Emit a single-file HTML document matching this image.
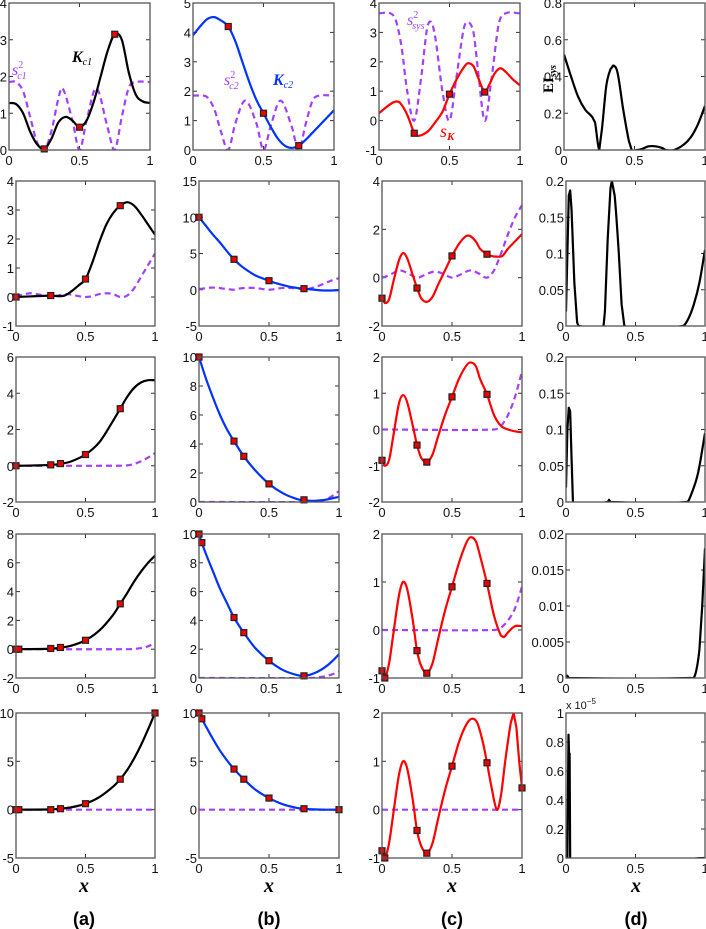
<!DOCTYPE html>
<html><head><meta charset="utf-8">
<style>
html,body{margin:0;padding:0;background:#fff;}
svg{display:block;}
text{font-family:"Liberation Sans",sans-serif;}
</style></head>
<body>
<svg id="fig" width="706" height="929" viewBox="0 0 706 929" xmlns="http://www.w3.org/2000/svg"></svg>
<script>
// ---------- data ----------
// Row 1
const a1_kx=[0,.05,.1,.15,.2,.25,.3,.35,.4,.45,.5,.55,.6,.65,.7,.75,.8,.85,.9,.95,1];
const a1_ky=[1.28,1.25,1.0,.5,.15,.03,.3,.75,.9,.8,.62,.8,1.3,2.0,2.7,3.15,3.0,2.1,1.5,1.32,1.28];
const a1_sx=[0,.05,.1,.15,.2,.25,.3,.35,.38,.45,.5,.55,.62,.7,.75,.8,.85,.9,1];
const a1_sy=[1.85,1.85,1.6,.9,.2,0,.5,1.4,1.68,.8,0,.8,1.68,.6,0,.9,1.7,1.85,1.85];
const a1_mx=[.25,.5,.75]; const a1_my=[.03,.62,3.15];
const b1_kx=[0,.05,.1,.15,.2,.25,.3,.35,.4,.45,.5,.55,.6,.65,.7,.75,.8,.85,.9,.95,1];
const b1_ky=[3.9,4.2,4.45,4.52,4.4,4.2,3.7,3.0,2.3,1.7,1.25,.8,.4,.15,.07,.15,.35,.6,.85,1.1,1.35];
const b1_sx=[0,.05,.1,.15,.2,.25,.3,.37,.45,.5,.55,.62,.7,.75,.8,.85,.9,1];
const b1_sy=[1.85,1.85,1.8,1.4,.6,0,.9,1.68,.9,0,.8,1.68,.8,0,.9,1.7,1.85,1.85];
const b1_mx=[.25,.5,.75]; const b1_my=[4.2,1.25,.15];
const c1_kx=[0,.05,.1,.12,.15,.2,.25,.28,.3,.35,.4,.45,.5,.55,.6,.63,.67,.7,.75,.78,.82,.86,.9,.95,1];
const c1_ky=[.25,.45,.62,.65,.6,.2,-.42,-.52,-.5,-.35,-.05,.3,.9,1.4,1.8,1.95,1.85,1.5,.97,1.2,1.6,1.78,1.65,1.4,1.2];
const c1_sx=[0,.08,.12,.16,.2,.25,.3,.34,.37,.4,.45,.5,.55,.6,.63,.67,.7,.75,.8,.85,.9,1];
const c1_sy=[3.65,3.65,3.4,2.5,1.0,0,1.5,3.1,3.35,2.8,1.0,0,1.5,3.1,3.35,3.0,1.8,0,1.5,3.3,3.65,3.65];
const c1_mx=[.25,.5,.75]; const c1_my=[-.43,.9,.97];
const d1_x=[0,.05,.1,.15,.2,.22,.25,.27,.3,.33,.35,.38,.42,.46,.48,.52,.55,.6,.65,.7,.72,.78,.85,.9,.95,1];
const d1_y=[.52,.4,.29,.22,.18,.15,0,.12,.35,.44,.46,.42,.22,.05,0,0,.005,.02,.02,.01,0,0,.03,.07,.14,.24];
// Row 2
const a2_kx=[0,.1,.2,.25,.3,.35,.4,.45,.5,.55,.6,.65,.7,.75,.8,.85,.9,.95,1];
const a2_ky=[0,.02,.04,.05,.03,.05,.2,.4,.62,1.2,1.9,2.5,2.9,3.15,3.27,3.15,2.85,2.5,2.15];
const a2_sx=[0,.05,.1,.15,.2,.25,.3,.35,.4,.45,.5,.55,.6,.65,.7,.75,.8,.85,.9,.95,1];
const a2_sy=[.05,.08,.13,.1,.05,.02,.05,.1,.08,.03,0,.03,.1,.13,.1,0,.05,.3,.7,1.1,1.5];
const a2_mx=[0,.25,.5,.75]; const a2_my=[0,.05,.62,3.15];
const b2_kx=[0,.05,.1,.15,.2,.25,.3,.35,.4,.45,.5,.55,.6,.65,.7,.75,.8,.85,.9,.95,1];
const b2_ky=[10,8.8,7.6,6.5,5.3,4.2,3.3,2.6,2.0,1.6,1.25,.9,.65,.4,.25,.15,.05,-.05,-.1,-.1,-.05];
const b2_sx=[0,.1,.2,.25,.3,.4,.5,.6,.7,.75,.8,.85,.9,.95,1];
const b2_sy=[.1,.3,.1,0,.2,.25,0,.25,.2,0,.2,.5,.9,1.3,1.6];
const b2_mx=[0,.25,.5,.75]; const b2_my=[10,4.2,1.25,.15];
const c2_kx=[0,.02,.05,.08,.12,.15,.18,.22,.25,.28,.32,.36,.4,.45,.5,.55,.6,.63,.67,.7,.75,.78,.82,.86,.9,.95,1];
const c2_ky=[-.85,-1.05,-.9,-.2,.7,1.02,.8,.1,-.42,-.85,-1.0,-.8,-.3,.3,.9,1.4,1.72,1.72,1.5,1.2,.97,.9,.87,.9,1.2,1.5,1.8];
const c2_sx=[0,.05,.1,.13,.18,.25,.3,.37,.42,.5,.55,.63,.7,.75,.8,.85,.9,.95,1];
const c2_sy=[0,.1,.25,.3,.2,0,.1,.25,.2,0,.1,.3,.15,0,.3,1.0,1.8,2.5,3.0];
const c2_mx=[0,.25,.5,.75]; const c2_my=[-.85,-.43,.9,.97];
const d2_x=[0,.01,.02,.03,.04,.06,.08,.09,.27,.28,.3,.32,.33,.35,.38,.4,.42,.84,.88,.92,.96,1];
const d2_y=[.02,.1,.18,.187,.16,.06,.005,0,0,.02,.12,.19,.2,.18,.1,.03,0,0,.01,.03,.06,.105];
// Row 3
const a3_kx=[0,.1,.2,.25,.32,.4,.5,.6,.7,.75,.8,.85,.9,.95,1];
const a3_ky=[0,.01,.03,.05,.1,.25,.62,1.3,2.5,3.15,3.8,4.3,4.6,4.72,4.72];
const a3_sx=[0,.7,.8,.85,.9,.95,1]; const a3_sy=[0,0,.02,.1,.25,.45,.7];
const a3_mx=[0,.25,.32,.5,.75]; const a3_my=[0,.05,.12,.62,3.15];
const b3_kx=[0,.05,.1,.15,.2,.25,.32,.4,.5,.6,.7,.75,.8,.85,.9,.95,1];
const b3_ky=[10,8.5,7.2,6.0,5.0,4.2,3.15,2.2,1.25,.6,.2,.12,.08,.1,.15,.25,.35];
const b3_sx=[0,.8,.85,.9,.95,1]; const b3_sy=[0,0,.05,.15,.4,.75];
const b3_mx=[0,.25,.32,.5,.75]; const b3_my=[10,4.2,3.15,1.25,.15];
const c3_kx=[0,.02,.05,.08,.12,.15,.18,.22,.25,.28,.32,.36,.4,.45,.5,.55,.6,.63,.67,.7,.75,.8,.85,.9,.95,1];
const c3_ky=[-.85,-1.0,-.85,-.2,.7,.95,.75,.1,-.42,-.78,-.9,-.7,-.2,.4,.9,1.4,1.75,1.85,1.75,1.4,.97,.4,.1,0,-.05,-.08];
const c3_sx=[0,.8,.85,.9,.95,1]; const c3_sy=[0,0,.1,.4,.9,1.6];
const c3_mx=[0,.25,.32,.5,.75]; const c3_my=[-.85,-.43,-.9,.9,.97];
const d3_x=[0,.01,.02,.03,.04,.05,.3,.31,.32,.87,.9,.95,1];
const d3_y=[.02,.1,.13,.125,.06,0,0,.003,0,0,.01,.04,.095];
// Row 4
const a4_kx=[0,.25,.32,.4,.5,.6,.7,.75,.8,.85,.9,.95,1];
const a4_ky=[0,.03,.1,.25,.62,1.3,2.4,3.15,3.9,4.7,5.4,6.0,6.5];
const a4_sx=[0,.8,.85,.9,.95,1]; const a4_sy=[0,0,.02,.08,.2,.45];
const a4_mx=[0,.02,.25,.32,.5,.75]; const a4_my=[0,0,.05,.12,.62,3.15];
const b4_kx=[0,.02,.05,.1,.15,.2,.25,.32,.4,.5,.6,.7,.75,.8,.85,.9,.95,1];
const b4_ky=[10,9.4,8.6,7.4,6.2,5.2,4.2,3.15,2.1,1.2,.55,.2,.15,.25,.45,.75,1.15,1.65];
const b4_sx=[0,.8,.85,.9,.95,1]; const b4_sy=[0,0,.05,.12,.25,.45];
const b4_mx=[0,.02,.25,.32,.5,.75]; const b4_my=[10,9.4,4.2,3.15,1.2,.15];
const c4_kx=[0,.02,.05,.08,.12,.15,.18,.22,.25,.28,.32,.36,.4,.45,.5,.55,.6,.63,.67,.7,.75,.8,.85,.87,.9,.95,1];
const c4_ky=[-.85,-1.0,-.7,-.1,.7,1.0,.85,.2,-.43,-.75,-.9,-.7,-.2,.4,.9,1.4,1.8,1.93,1.85,1.55,.97,.3,-.12,-.15,-.05,.08,.08];
const c4_sx=[0,.8,.85,.9,.95,1]; const c4_sy=[0,0,.05,.2,.45,.9];
const c4_mx=[0,.02,.25,.32,.5,.75]; const c4_my=[-.85,-1.0,-.43,-.9,.9,.97];
const d4_x=[0,.01,.02,.9,.93,.96,.98,1];
const d4_y=[0,.0003,0,0,.0005,.004,.01,.018];
// Row 5
const a5_kx=[0,.25,.32,.4,.5,.6,.7,.75,.8,.85,.9,.95,1];
const a5_ky=[0,.03,.1,.25,.62,1.3,2.4,3.15,4.1,5.3,6.7,8.3,10];
const a5_sx=[0,1]; const a5_sy=[0,0];
const a5_mx=[0,.02,.25,.32,.5,.75,1]; const a5_my=[0,0,0,.1,.62,3.15,10];
const b5_kx=[0,.02,.05,.1,.15,.2,.25,.32,.4,.5,.6,.7,.75,.8,.9,1];
const b5_ky=[10,9.4,8.6,7.3,6.1,5.1,4.2,3.15,2.1,1.2,.55,.18,.1,.04,0,0];
const b5_sx=[0,1]; const b5_sy=[0,0];
const b5_mx=[0,.02,.25,.32,.5,.75,1]; const b5_my=[10,9.4,4.2,3.15,1.2,.1,0];
const c5_kx=[0,.02,.05,.08,.12,.15,.18,.22,.25,.28,.32,.36,.4,.45,.5,.55,.6,.64,.68,.72,.75,.78,.82,.85,.88,.92,.94,.96,.98,1];
const c5_ky=[-.85,-1.0,-.7,-.1,.7,1.0,.85,.2,-.43,-.75,-.9,-.7,-.2,.4,.9,1.4,1.75,1.88,1.8,1.4,.97,.5,0,.3,1.0,1.8,2.0,1.7,1.0,.45];
const c5_sx=[0,1]; const c5_sy=[0,0];
const c5_mx=[0,.02,.25,.32,.5,.75,1]; const c5_my=[-.85,-1.0,-.43,-.9,.9,.97,.45];
const d5_x=[0,.01,.018,.022,.026,.03,1];
const d5_y=[0,0,.85,.72,.72,0,0];
// tick labels
const yt_a=[[0,1,2,3,4],[-1,0,1,2,3,4],[-2,0,2,4,6],[-2,0,2,4,6,8],[-5,0,5,10]];
const yt_b=[[0,1,2,3,4,5],[-5,0,5,10,15],[0,2,4,6,8,10],[0,2,4,6,8,10],[-5,0,5,10]];
const yt_c=[[-1,0,1,2,3,4],[-2,0,2,4],[-2,-1,0,1,2],[-1,0,1,2],[-1,0,1,2]];
const yt_d=[["0","0.2","0.4","0.6","0.8"],["0","0.05","0.1","0.15","0.2"],["0","0.05","0.1","0.15","0.2"],["0","0.005","0.01","0.015","0.02"],["0","0.2","0.4","0.6","0.8","1"]];
const xt=["0","0.5","1"];

// ---------- layout ----------
const NS="http://www.w3.org/2000/svg";
const svg=document.getElementById('fig');
const rowsY=[[3,150],[181,326],[357,502],[534,678],[713,858]];
const colsX=[[[9,150],[193,334],[379,520],[564,705]],[[16,155],[199,339],[382,522],[566,705]]];
const BLACK="#000",BLUE="#0033ff",RED="#ff0000",PURP="#a340ff";
function mk(tag,attrs,parent){const e=document.createElementNS(NS,tag);for(const k in attrs)e.setAttribute(k,attrs[k]);(parent||svg).appendChild(e);return e;}
let clipN=0;
function panel(r,c,ymin,ymax,yt,curves,markers,name){
  const fx=colsX[r===0?0:1][c], fy=rowsY[r];
  const X=v=>fx[0]+v*(fx[1]-fx[0]);
  const Y=v=>fy[1]-(v-ymin)/(ymax-ymin)*(fy[1]-fy[0]);
  const g=mk('g',{});
  
  
  const id='cp'+(clipN++);
  const cp=mk('clipPath',{id:id},g);
  mk('rect',{x:fx[0],y:fy[0],width:fx[1]-fx[0],height:fy[1]-fy[0]},cp);
  // ticks
  const ticks=mk('g',{stroke:'#333','stroke-width':1},g);
  
  
  xt.forEach((t,i)=>{const x=X(+t);
    mk('line',{x1:x,y1:fy[1],x2:x,y2:fy[1]-4},ticks);mk('line',{x1:x,y1:fy[0],x2:x,y2:fy[0]+4},ticks);
    const tx=mk('text',{x:x,y:fy[1]+15,'font-size':13,'text-anchor':'middle',fill:'#111'},g);tx.textContent=t;
    
    });
  yt.forEach(t=>{const y=Y(+t);
    mk('line',{x1:fx[0],y1:y,x2:fx[0]+4,y2:y},ticks);mk('line',{x1:fx[1],y1:y,x2:fx[1]-4,y2:y},ticks);
    const tx=mk('text',{x:fx[0]-2,y:y+5,'font-size':13,'text-anchor':'end',fill:'#111'},g);tx.textContent=String(t);
    
    });
  const pg=mk('g',{'clip-path':'url(#'+id+')'},g);
  curves.forEach(cv=>{
    let d='';cv.xs.forEach((v,i)=>{d+=(i?'L':'M')+X(v).toFixed(2)+','+Y(cv.ys[i]).toFixed(2);});
    const p=mk('path',{d:smooth(cv.xs.map(X),cv.ys.map(Y)),fill:'none',stroke:cv.col,'stroke-width':2.2,'stroke-linejoin':'round'},pg);
    if(cv.dash)p.setAttribute('stroke-dasharray','6,4');
    
    
  });
  if(markers){markers.xs.forEach((v,i)=>{
    const m=mk('rect',{x:X(v)-3,y:Y(markers.ys[i])-3,width:6,height:6,fill:'#ee0000',stroke:'#222','stroke-width':1.2},g);
    
    });}
  const fr=mk('rect',{x:fx[0],y:fy[0],width:fx[1]-fx[0],height:fy[1]-fy[0],fill:'none',stroke:'#555','stroke-width':1.3},g);
  
  
  return {X,Y};
}
function smooth(px,py){
  // monotone-ish cubic (Catmull-Rom, tension limited) through pixel points
  let d='M'+px[0].toFixed(2)+','+py[0].toFixed(2);
  for(let i=0;i<px.length-1;i++){
    const x0=px[Math.max(i-1,0)],y0=py[Math.max(i-1,0)],x1=px[i],y1=py[i],x2=px[i+1],y2=py[i+1],x3=px[Math.min(i+2,px.length-1)],y3=py[Math.min(i+2,px.length-1)];
    const dx=x2-x1;
    let m1=(y2-y0)/((x2-x0)||1), m2=(y3-y1)/((x3-x1)||1);
    if(dx<3){m1=m2=(y2-y1)/(dx||1);}
    d+='C'+(x1+dx/3).toFixed(2)+','+(y1+m1*dx/3).toFixed(2)+' '+(x2-dx/3).toFixed(2)+','+(y2-m2*dx/3).toFixed(2)+' '+x2.toFixed(2)+','+y2.toFixed(2);
  }
  return d;
}
const yrA=[[0,4],[-1,4],[-2,6],[-2,8],[-5,10]];
const yrB=[[0,5],[-5,15],[0,10],[0,10],[-5,10]];
const yrC=[[-1,4],[-2,4],[-2,2],[-1,2],[-1,2]];
const yrD=[[0,.8],[0,.2],[0,.2],[0,.02],[0,1]];
const A=[[a1_kx,a1_ky,a1_sx,a1_sy,a1_mx,a1_my],[a2_kx,a2_ky,a2_sx,a2_sy,a2_mx,a2_my],[a3_kx,a3_ky,a3_sx,a3_sy,a3_mx,a3_my],[a4_kx,a4_ky,a4_sx,a4_sy,a4_mx,a4_my],[a5_kx,a5_ky,a5_sx,a5_sy,a5_mx,a5_my]];
const B=[[b1_kx,b1_ky,b1_sx,b1_sy,b1_mx,b1_my],[b2_kx,b2_ky,b2_sx,b2_sy,b2_mx,b2_my],[b3_kx,b3_ky,b3_sx,b3_sy,b3_mx,b3_my],[b4_kx,b4_ky,b4_sx,b4_sy,b4_mx,b4_my],[b5_kx,b5_ky,b5_sx,b5_sy,b5_mx,b5_my]];
const C=[[c1_kx,c1_ky,c1_sx,c1_sy,c1_mx,c1_my],[c2_kx,c2_ky,c2_sx,c2_sy,c2_mx,c2_my],[c3_kx,c3_ky,c3_sx,c3_sy,c3_mx,c3_my],[c4_kx,c4_ky,c4_sx,c4_sy,c4_mx,c4_my],[c5_kx,c5_ky,c5_sx,c5_sy,c5_mx,c5_my]];
const D=[[d1_x,d1_y],[d2_x,d2_y],[d3_x,d3_y],[d4_x,d4_y],[d5_x,d5_y]];
for(let r=0;r<5;r++){
  let s=A[r];
  panel(r,0,yrA[r][0],yrA[r][1],yt_a[r],[{xs:s[2],ys:s[3],col:PURP,dash:1,name:'variance-s2-c1'},{xs:s[0],ys:s[1],col:BLACK,name:'kriging-k-c1'}],{xs:s[4],ys:s[5]},'panel-a-row'+(r+1));
  s=B[r];
  panel(r,1,yrB[r][0],yrB[r][1],yt_b[r],[{xs:s[2],ys:s[3],col:PURP,dash:1,name:'variance-s2-c2'},{xs:s[0],ys:s[1],col:BLUE,name:'kriging-k-c2'}],{xs:s[4],ys:s[5]},'panel-b-row'+(r+1));
  s=C[r];
  panel(r,2,yrC[r][0],yrC[r][1],yt_c[r],[{xs:s[2],ys:s[3],col:PURP,dash:1,name:'variance-s2-sys'},{xs:s[0],ys:s[1],col:RED,name:'system-s-k'}],{xs:s[4],ys:s[5]},'panel-c-row'+(r+1));
  s=D[r];
  panel(r,3,yrD[r][0],yrD[r][1],yt_d[r],[{xs:s[0],ys:s[1],col:BLACK,name:'expected-improvement'}],null,'panel-d-row'+(r+1));
}
function label(x,y,html,attrs,name){const t=mk('text',Object.assign({x:x,y:y},attrs));t.innerHTML=html;return t;}
const serif='font-family:"Liberation Serif",serif;';
label(72,62,'<tspan font-style="italic" font-weight="bold">K</tspan><tspan font-size="10" dy="3" font-style="italic">c1</tspan>',{style:serif,'font-size':16,fill:'#000'},'annotation-k-c1');
label(12,75,'<tspan font-style="italic">s</tspan><tspan font-size="10" dy="-7">2</tspan><tspan font-size="10" dx="-6" dy="11" font-style="italic">c1</tspan>',{style:serif,'font-size':16,fill:PURP},'annotation-s2-c1');
label(224,85,'<tspan font-style="italic">s</tspan><tspan font-size="10" dy="-7">2</tspan><tspan font-size="10" dx="-6" dy="11" font-style="italic">c2</tspan>',{style:serif,'font-size':16,fill:PURP},'annotation-s2-c2');
label(273,85,'<tspan font-style="italic" font-weight="bold">K</tspan><tspan font-size="10" dy="3" font-style="italic">c2</tspan>',{style:serif,'font-size':16,fill:BLUE},'annotation-k-c2');
label(407,25,'<tspan font-style="italic">s</tspan><tspan font-size="10" dy="-7">2</tspan><tspan font-size="10" dx="-6" dy="11" font-style="italic">sys</tspan>',{style:serif,'font-size':16,fill:PURP},'annotation-s2-sys');
label(440,137,'<tspan font-style="italic">s</tspan><tspan font-size="11" dy="3" font-style="italic" font-weight="bold">K</tspan>',{style:serif,'font-size':18,fill:RED},'annotation-s-k');
label(0,0,'EI<tspan font-size="10" dy="3" font-style="italic">sys</tspan>',{style:serif,'font-size':15,'font-weight':'bold',fill:'#000',transform:'translate(553,93) rotate(-90)'},'y-axis-title-ei-sys');
label(566,709,'x 10<tspan font-size="8" dy="-5">−5</tspan>',{'font-size':11,fill:'#111'},'exponent-label');
const cx=[84,269,452,636], tags=['(a)','(b)','(c)','(d)'];
for(let i=0;i<4;i++){
  label(cx[i],892,'x',{style:serif,'font-size':20,'font-style':'italic','font-weight':'bold','text-anchor':'middle'},'x-axis-title');
  label(cx[i],925,tags[i],{'font-size':18,'font-weight':'bold','text-anchor':'middle'},'panel-tag-'+'abcd'[i]);
}
</script>
</body></html>
